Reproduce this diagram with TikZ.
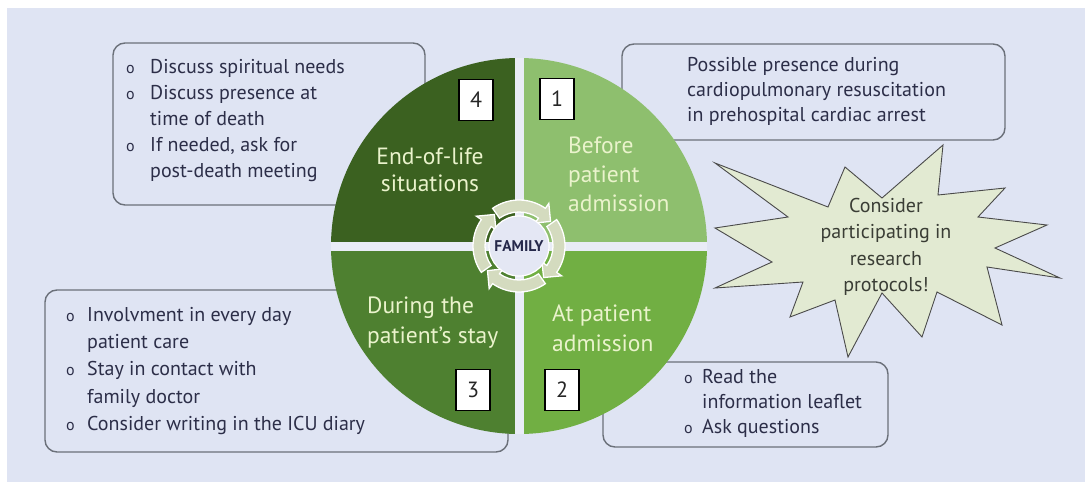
\documentclass[tikz,border=0pt]{standalone}
\usepackage{fontspec}
\setmainfont{PT Sans}
\definecolor{bg}{HTML}{DFE4F3}
\definecolor{gapc}{HTML}{E9ECF6}
\definecolor{qfour}{HTML}{3B6120}
\definecolor{qone}{HTML}{8EBF6E}
\definecolor{qtwo}{HTML}{71AF43}
\definecolor{qthree}{HTML}{4E8030}
\definecolor{qtext}{HTML}{EAF3CC}
\definecolor{boxline}{HTML}{6B7079}
\definecolor{boxtext}{HTML}{2C2E48}
\definecolor{starfill}{HTML}{E2EAD2}
\definecolor{starline}{HTML}{4A4A4A}
\definecolor{startext}{HTML}{3A3D35}
\definecolor{ringc}{HTML}{D4DBBF}
\definecolor{famin}{HTML}{E4E7F4}
\definecolor{famtext}{HTML}{25284A}
\newcommand{\mybul}{{\fontsize{16}{16}\selectfont o}}
\begin{document}
\begin{tikzpicture}[x=1pt,y=-1pt,
  listbox/.style={draw=boxline, line width=1.4pt, rounded corners=12pt, fill=bg},
  listtext/.style={font=\fontsize{20}{26}\selectfont, text=boxtext, align=left, inner sep=0pt, anchor=north west},
  qlabel/.style={font=\fontsize{23.5}{29}\selectfont, text=qtext, inner sep=0pt},
  numbox/.style={draw=black, line width=1.2pt, fill=white, minimum width=34pt, minimum height=41pt, inner sep=0pt, font=\fontsize{22}{22}\selectfont, text=black!85},
]
\useasboundingbox (0,0) rectangle (1085,482);
\fill[white] (0,0) rectangle (1085,482);
\fill[bg] (7,8) rectangle (1085,482);

% list boxes
\draw[listbox] (113,43) rectangle (425,205);
\draw[listbox] (622,44) rectangle (1005,140);
\draw[listbox] (45,290) rectangle (508,452);
\draw[listbox] (603,362) rectangle (888,447);

% circle quadrants
\begin{scope}
\clip (519,246) circle[radius=188pt];
\fill[qfour] (300,30) rectangle (514.5,241.5);
\fill[qone] (523.5,30) rectangle (740,241.5);
\fill[qthree] (300,250.5) rectangle (514.5,460);
\fill[qtwo] (523.5,250.5) rectangle (740,460);
\fill[gapc] (514.5,30) rectangle (523.5,460);
\fill[gapc] (300,241.5) rectangle (740,250.5);
\end{scope}

% family cycle
\begin{scope}[shift={(519,246)}]
\foreach \a in {145,55,-35,-125}{
  \filldraw[fill=ringc, draw=white, line width=1.3pt]
    ({\a+70}:46pt) arc[start angle={\a+70}, end angle=\a, radius=46pt]
    -- (\a:52pt) -- ({\a-17}:40pt) -- (\a:28pt) -- (\a:34pt)
    arc[start angle=\a, end angle={\a+70}, radius=34pt] -- cycle;
}
\filldraw[fill=famin, draw=white, line width=1.2pt] (0,0) circle[radius=30pt];
\node[font=\bfseries\fontsize{15.5}{15.5}\selectfont, text=famtext, inner sep=0pt] (family) at (0,0) {FAMILY};
\end{scope}

% quadrant labels
\node[qlabel, align=center, font=\fontsize{23.5}{27}\selectfont] (endlife) at (430,170) {End-of-life\\situations};
\node[qlabel, align=left, anchor=west] (before) at (568,174) {Before\\patient\\admission};
\node[qlabel, align=left, anchor=west, font=\fontsize{23.5}{30}\selectfont] (atadm) at (552,328) {At patient\\admission};
\node[qlabel, align=left, anchor=west, font=\fontsize{23.5}{30}\selectfont] (during) at (367,323) {During the\\patient’s stay};

% number boxes
\node[numbox] (n4) at (476,100) {4};
\node[numbox] (n1) at (557,99) {1};
\node[numbox] (n3) at (473,390) {3};
\node[numbox] (n2) at (562,390) {2};

% list texts
\node[listtext] (t4) at (126,59) {\makebox[24pt][l]{\mybul}Discuss spiritual needs\\
\makebox[24pt][l]{\mybul}Discuss presence at\\
\hspace*{24pt}time of death\\
\makebox[24pt][l]{\mybul}If needed, ask for\\
\hspace*{24pt}post-death meeting};
\node[listtext, font=\fontsize{20}{25}\selectfont] (t1) at (687,57) {Possible presence during\\
cardiopulmonary resuscitation\\
in prehospital cardiac arrest};
\node[listtext, font=\fontsize{20}{27.3}\selectfont] (t3) at (66,307) {\makebox[21pt][l]{\mybul}Involvment in every day\\
\hspace*{21pt}patient care\\
\makebox[21pt][l]{\mybul}Stay in contact with\\
\hspace*{21pt}family doctor\\
\makebox[21pt][l]{\mybul}Consider writing in the ICU diary};
\node[listtext, font=\fontsize{20}{25}\selectfont] (t2) at (684,369) {\makebox[18pt][l]{\mybul}Read the\\
\hspace*{18pt}information leaflet\\
\makebox[18pt][l]{\mybul}Ask questions};

% star
\filldraw[fill=starfill, draw=starline, line width=0.9pt]
 (715,163) -- (828,207) -- (845,167) -- (882,198) -- (943,145) -- (938,195)
 -- (1005,188) -- (978,217) -- (1047,225) -- (995,248) -- (1060,278) -- (987,267)
 -- (1002,325) -- (937,292) -- (922,337) -- (882,293) -- (848,357) -- (835,300)
 -- (790,317) -- (803,282) -- (715,288) -- (772,262) -- (715,228) -- (788,217) -- cycle;
\node[align=center, font=\fontsize{20}{26.5}\selectfont, text=startext, inner sep=0pt] (research) at (886,247) {Consider\\participating in\\research\\protocols!};
\end{tikzpicture}
\end{document}
